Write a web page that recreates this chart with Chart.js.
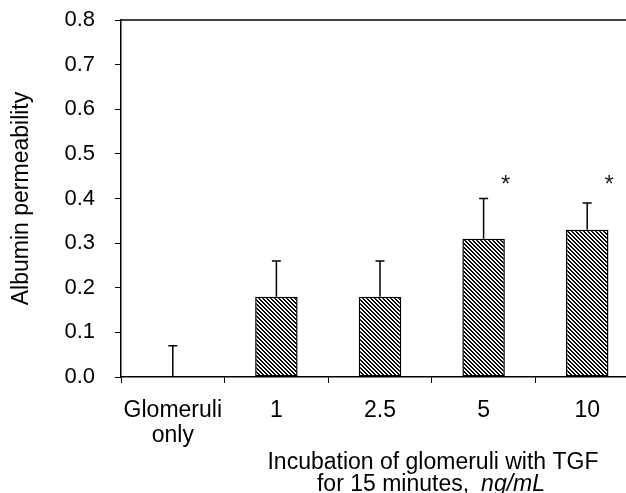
<!DOCTYPE html>
<html><head><meta charset="utf-8">
<script src="https://cdn.jsdelivr.net/npm/chart.js@4"></script>
<style>html,body{margin:0;padding:0;overflow:hidden;background:#fff;width:626px;height:493px}canvas{display:block}</style>
</head><body>
<canvas id="c" width="640" height="493"></canvas>
<script>
const categories = [["Glomeruli","only"], "1", "2.5", "5", "10"];
const means = [0, 0.18, 0.18, 0.31, 0.33];
const errorTops = [0.07, 0.26, 0.26, 0.40, 0.39];
const significance = ["", "", "", "*", "*"];
const significanceLevel = [null, null, null, 0.435, 0.435];
const yTickValues = [0, 0.1, 0.2, 0.3, 0.4, 0.5, 0.6, 0.7, 0.8];
const yTitle = "Albumin permeability";
const xTitleLine1 = "Incubation of glomeruli with TGF";
const xTitleLine2a = "for 15 minutes,";
const xTitleLine2b = "ng/mL";

const FONT = "'Liberation Sans', Arial, sans-serif";

function makeHatch() {
  const s = 4;
  const c = document.createElement('canvas');
  c.width = s; c.height = s;
  const g = c.getContext('2d');
  const img = g.createImageData(s, s);
  for (let yy = 0; yy < s; yy++) {
    for (let xx = 0; xx < s; xx++) {
      const black = ((xx - yy) % s + s) % s < 2;
      const k = (yy * s + xx) * 4;
      const v = black ? 0 : 255;
      img.data[k] = v; img.data[k + 1] = v; img.data[k + 2] = v; img.data[k + 3] = 255;
    }
  }
  g.putImageData(img, 0, 0);
  return g.createPattern(c, 'repeat');
}

const ctx = document.getElementById('c').getContext('2d');

const extras = {
  id: 'extras',
  afterDatasetsDraw(chart) {
    const { ctx, chartArea, scales: { x, y } } = chart;
    ctx.save();
    ctx.strokeStyle = '#000';
    ctx.lineWidth = 1.5;
    ctx.beginPath();
    ctx.moveTo(chartArea.left, chartArea.top);
    ctx.lineTo(chartArea.right, chartArea.top);
    ctx.stroke();
    errorTops.forEach((v, i) => {
      const px = x.getPixelForValue(i);
      const yb = y.getPixelForValue(means[i]);
      const yt = y.getPixelForValue(v);
      ctx.beginPath();
      ctx.moveTo(px, yb);
      ctx.lineTo(px, yt);
      ctx.moveTo(px - 4.5, yt);
      ctx.lineTo(px + 4.5, yt);
      ctx.stroke();
    });
    ctx.fillStyle = '#222';
    ctx.font = '24px ' + FONT;
    ctx.textAlign = 'center';
    ctx.textBaseline = 'alphabetic';
    significance.forEach((m, i) => {
      if (!m) return;
      const px = x.getPixelForValue(i) + 22;
      const py = y.getPixelForValue(significanceLevel[i]);
      ctx.fillText(m, px, py + 9);
    });
    ctx.fillStyle = '#000';
    ctx.textAlign = 'center';
    ctx.font = '23px ' + FONT;
    const cx = 433;
    ctx.fillText(xTitleLine1, cx, 469);
    const gap = 12;
    ctx.font = '23px ' + FONT;
    const wa = ctx.measureText(xTitleLine2a).width;
    ctx.font = 'italic 23px ' + FONT;
    const wb = ctx.measureText(xTitleLine2b).width;
    const start = 431 - (wa + gap + wb) / 2;
    ctx.textAlign = 'left';
    ctx.font = '23px ' + FONT;
    ctx.fillText(xTitleLine2a, start, 491);
    ctx.font = 'italic 23px ' + FONT;
    ctx.fillText(xTitleLine2b, start + wa + gap, 491);
    ctx.restore();
  }
};

new Chart(ctx, {
  type: 'bar',
  data: {
    labels: categories,
    datasets: [{
      data: means,
      backgroundColor: makeHatch(),
      borderColor: '#000',
      borderWidth: 1.5,
      borderSkipped: false,
      barPercentage: 0.41,
      categoryPercentage: 1.0
    }]
  },
  options: {
    responsive: false,
    animation: false,
    events: [],
    layout: { padding: { top: 20, right: 1, left: 0, bottom: 0 } },
    plugins: { legend: { display: false }, tooltip: { enabled: false } },
    scales: {
      x: {
        afterFit(s) { s.height = 116; s.paddingLeft = 0; s.paddingRight = 0; },
        border: { display: true, color: '#000', width: 1.5 },
        grid: { display: true, drawOnChartArea: false, offset: true, tickLength: 6, color: '#000', lineWidth: 1 },
        ticks: { color: '#000', font: { family: FONT, size: 23, lineHeight: 1.1 }, padding: 15, maxRotation: 0, autoSkip: false }
      },
      y: {
        min: 0, max: 0.8,
        afterFit(s) { s.width = 121; s.paddingTop = 0; s.paddingBottom = 0; },
        afterBuildTicks(s) { s.ticks = yTickValues.map(v => ({ value: v })); },
        border: { display: true, color: '#000', width: 1.5 },
        grid: { display: true, drawOnChartArea: false, tickLength: 6, color: '#000', lineWidth: 1 },
        ticks: { color: '#000', font: { family: FONT, size: 22 }, padding: 20, callback: v => v.toFixed(1) },
        title: { display: true, text: yTitle, color: '#000', font: { family: FONT, size: 23 }, padding: { top: 8, bottom: 0 } }
      }
    }
  },
  plugins: [extras]
});
</script>
</body></html>
